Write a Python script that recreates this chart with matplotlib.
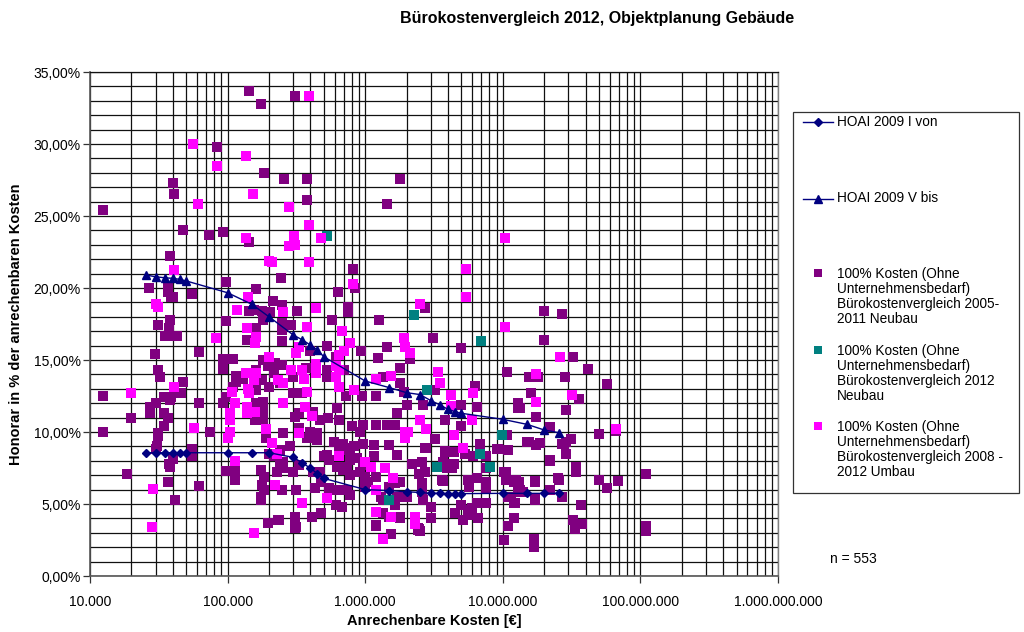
import matplotlib
matplotlib.use("Agg")
import matplotlib.pyplot as plt
from matplotlib.lines import Line2D
from matplotlib.patches import Rectangle
from matplotlib.ticker import FixedLocator, FuncFormatter, NullFormatter, LogLocator

plt.rcParams['font.family'] = ['Liberation Sans', 'DejaVu Sans']

# ---------------- data ----------------
hoai_x = [25565, 30000, 35000, 40000, 45000, 50000, 100000, 150000, 200000,
          300000, 350000, 400000, 450000, 500000, 1000000, 1500000, 2000000,
          2500000, 3000000, 3500000, 4000000, 4500000, 5000000, 10000000,
          15000000, 20000000, 25564594]
hoai_i_von = [8.56, 8.56, 8.56, 8.56, 8.56, 8.56, 8.56, 8.56, 8.56,
              8.24, 7.85, 7.48, 7.1, 6.78, 6.0, 5.93, 5.85,
              5.8, 5.74, 5.74, 5.72, 5.72, 5.72, 5.74,
              5.74, 5.74, 5.74]
hoai_v_bis = [20.9, 20.78, 20.71, 20.67, 20.6, 20.49, 19.67, 18.87, 18.0,
              16.74, 16.39, 16.04, 15.69, 15.23, 13.54, 13.08, 12.73,
              12.6, 12.18, 11.88, 11.57, 11.41, 11.3, 10.88,
              10.53, 10.14, 9.95]

# 100% Kosten, Buerokostenvergleich 2005-2011 Neubau (cost in EUR, fee in %)
neubau_0511 = [
    (12400, 25.4), (84000, 29.8), (144000, 33.7), (175000, 32.8), (310000, 33.3),
    (185000, 28.0), (258000, 27.6), (380000, 27.6), (380000, 26.1), (40000, 27.3),
    (40500, 26.5), (47500, 24.0), (73000, 23.7), (92000, 23.9), (144000, 23.2),
    (38000, 22.2), (810000, 21.3), (850000, 20.0), (245000, 20.7), (98000, 20.4),
    (27000, 20.0), (37000, 20.0), (162000, 19.9), (630000, 19.7), (750000, 18.7),
    (1450000, 25.8), (1800000, 27.6), (55000, 19.6), (37000, 19.7), (38500, 19.4),
    (40000, 19.35), (215000, 19.1), (247000, 18.8),
    (2700000, 18.6), (20000000, 18.4), (27000000, 18.2), (3100000, 16.5), (5000000, 15.8),
    (20000000, 16.4), (10700000, 14.2), (15600000, 13.8), (18000000, 13.8), (28500000, 13.8),
    (3200000, 12.9), (6300000, 13.2), (16000000, 12.7), (2100000, 15.1),
    (32500000, 15.2), (41500000, 14.4), (57000000, 13.3), (35500000, 12.3), (29000000, 11.5),
    (22000000, 10.35), (50000000, 9.84), (67000000, 10.1), (31500000, 9.5), (27000000, 9.2),
    (29000000, 8.5), (22000000, 8.0), (34000000, 7.55), (34000000, 7.25), (50000000, 6.7),
    (69000000, 6.6), (57000000, 6.1), (110000000, 7.1), (25500000, 6.7), (27000000, 5.5),
    (37000000, 4.9), (32500000, 3.9), (33500000, 3.25), (37500000, 3.6), (110000000, 3.5),
    (110000000, 3.1), (22000000, 6.0), (17000000, 5.3), (12000000, 5.05), (12000000, 4.0),
    (11000000, 3.5), (10200000, 2.5), (16800000, 2.6), (16800000, 2.0), (17000000, 6.6),
    (13000000, 5.85), (11000000, 5.5), (12000000, 6.55), (13200000, 6.55), (10200000, 7.25),
    (10500000, 6.8), (11000000, 8.75), (9000000, 8.8), (10700000, 9.8), (15500000, 9.3),
    (17500000, 9.1), (18500000, 9.25), (17500000, 11.06), (13000000, 12.0), (13400000, 11.7),
    (5000000, 11.9), (6500000, 11.75), (3800000, 10.8), (5000000, 10.4), (3200000, 9.5),
    (6800000, 9.2), (2750000, 8.9), (7500000, 8.35), (3800000, 8.6), (4400000, 8.6),
    (4400000, 7.8), (4000000, 7.8), (5300000, 8.5), (6100000, 8.3), (7500000, 7.5),
    (3700000, 6.6), (5600000, 6.65), (5700000, 6.2), (7500000, 6.55), (7500000, 6.1),
    (5000000, 4.9), (5600000, 4.6), (6000000, 4.7), (5800000, 4.25), (5100000, 3.9),
    (6500000, 5.05), (4500000, 4.4), (6600000, 4.0), (7500000, 5.05), (3000000, 4.0),
    (2400000, 3.2), (1800000, 4.1),
    (2650000, 11.9), (13000000, 11.65), (9200000, 8.85), (15000000, 9.3), (28000000, 9.2),
    (29000000, 9.3), (22000000, 8.05), (2200000, 7.8), (2600000, 7.95), (2700000, 7.25),
    (2450000, 7.1), (3700000, 7.95), (3900000, 7.5), (4300000, 7.5), (3600000, 6.65),
    (6500000, 6.8), (10600000, 7.25), (10600000, 6.65), (12500000, 6.65), (13300000, 5.95),
    (17000000, 6.55), (25000000, 6.8), (17000000, 5.4), (14000000, 5.85), (11400000, 5.5),
    (12300000, 5.05), (2600000, 6.45), (2600000, 5.85), (2650000, 5.3), (3000000, 4.8),
    (2400000, 3.3), (2500000, 3.1), (2700000, 8.9), (3800000, 8.7),
    (142000, 18.4), (38000, 17.8), (31400, 17.4), (37500, 17.2), (35000, 16.7),
    (38000, 16.7), (43000, 16.7), (138000, 16.4), (62000, 15.55), (29500, 15.4),
    (92000, 15.1), (92000, 14.7), (110000, 15.05), (92000, 14.35), (31000, 14.3),
    (32000, 13.8), (47500, 13.5), (12400, 12.5), (34500, 12.45), (39000, 12.45),
    (46000, 12.7), (116000, 13.9), (129000, 13.7), (116000, 13.5), (110000, 13.15),
    (98000, 12.45), (98000, 17.7),
    (27500, 11.75), (30000, 12.0), (27500, 11.3), (38000, 12.2), (20000, 11.0),
    (34500, 11.3), (37000, 11.0), (12500, 10.0), (34500, 10.4), (31000, 9.75),
    (74000, 10.0), (62000, 12.0), (92000, 12.0), (30500, 9.0), (30000, 8.8),
    (55000, 8.8), (55000, 8.3), (40000, 8.1), (38000, 7.6), (18700, 7.1),
    (37000, 6.5), (62000, 6.25), (41500, 5.3), (98000, 7.3), (113000, 7.36),
    (113000, 6.7), (31000, 9.9), (37500, 7.8),
    (205000, 18.35), (177000, 18.4), (182000, 17.8), (162000, 17.2), (155000, 18.5),
    (322000, 18.4), (750000, 18.3), (570000, 17.8), (1250000, 17.8), (247000, 17.55),
    (247000, 17.1), (290000, 17.4), (162000, 16.85), (247000, 16.3), (525000, 16.0),
    (1450000, 15.9), (400000, 15.6), (930000, 15.6), (610000, 15.2), (1230000, 15.15),
    (182000, 15.0), (200000, 15.1), (222000, 14.8), (197000, 14.55), (218000, 14.1),
    (247000, 14.65), (370000, 14.45), (300000, 13.85), (525000, 14.3), (525000, 13.85),
    (700000, 14.3), (1350000, 13.8), (1800000, 14.45), (1800000, 13.4), (1900000, 12.8),
    (162000, 14.3), (155000, 13.4), (177000, 13.6), (200000, 13.15), (240000, 13.4),
    (300000, 12.7), (162000, 12.9), (1200000, 12.5), (950000, 12.5), (720000, 12.5),
    (350000, 12.7),
    (162000, 12.0), (180000, 12.1), (157000, 10.8), (182000, 11.5), (182000, 10.8),
    (190000, 9.55), (253000, 9.9), (285000, 9.0), (240000, 8.75), (330000, 11.3),
    (420000, 11.4), (470000, 10.8), (540000, 10.95), (400000, 10.0), (445000, 9.9),
    (620000, 11.65), (310000, 11.05), (330000, 10.25), (375000, 9.55), (445000, 9.45),
    (525000, 8.4), (590000, 9.3), (640000, 10.8), (800000, 10.4), (910000, 10.0),
    (970000, 10.5), (1150000, 9.1), (1200000, 10.5), (1450000, 10.5), (1650000, 10.5),
    (1700000, 11.3), (2000000, 11.9), (1500000, 9.1), (1700000, 8.4), (1150000, 8.3),
    (175000, 7.35), (185000, 6.9), (228000, 7.25), (253000, 7.5), (177000, 6.3),
    (175000, 5.3), (197000, 3.65), (247000, 6.0), (240000, 7.7), (253000, 7.95),
    (200000, 8.5), (218000, 8.3), (300000, 7.25), (330000, 7.7), (315000, 6.0),
    (420000, 7.25), (470000, 7.25), (430000, 6.1), (475000, 6.55), (310000, 4.1),
    (310000, 3.55), (310000, 3.3), (410000, 4.1), (475000, 4.35), (233000, 3.9),
    (175000, 5.5), (185000, 6.0), (550000, 6.1), (620000, 6.0), (610000, 4.9),
    (680000, 4.8), (770000, 5.6), (740000, 6.0), (620000, 7.6), (690000, 7.35),
    (740000, 7.6), (770000, 7.0), (910000, 7.25), (1000000, 6.9), (1050000, 6.55),
    (1000000, 6.2), (650000, 8.6), (740000, 8.75), (830000, 9.0), (970000, 9.2),
    (770000, 8.05), (870000, 8.2), (970000, 7.7), (1200000, 6.9), (1200000, 6.0),
    (1300000, 5.5), (1350000, 5.3), (1500000, 6.2), (1650000, 6.45), (1800000, 6.55),
    (1700000, 5.5), (2000000, 5.5), (1650000, 4.9), (1350000, 4.35), (1500000, 4.1),
    (1800000, 4.0), (1200000, 3.55), (1550000, 2.95), (500000, 8.3), (550000, 8.05),
    (690000, 9.2), (770000, 8.9), (237000, 3.9), (315000, 3.4), (1200000, 3.5),
    (2450000, 3.25),
]

# 100% Kosten, Buerokostenvergleich 2012 Neubau
neubau_2012 = [
    (525000, 23.6), (2260000, 18.15), (6900000, 16.3), (2800000, 12.9), (9900000, 9.8),
    (6800000, 8.5), (8100000, 7.6), (3300000, 7.6), (1500000, 5.3),
]

# 100% Kosten, Buerokostenvergleich 2008-2012 Umbau
umbau_0812 = [
    (56000, 30.0), (84000, 28.5), (390000, 33.3), (135000, 29.2), (152000, 26.5),
    (278000, 25.6), (390000, 24.4), (61000, 25.8), (136000, 23.5), (303000, 23.6),
    (278000, 22.9), (310000, 23.0), (475000, 23.5), (200000, 21.9), (210000, 21.8),
    (390000, 21.8), (40500, 21.25), (810000, 20.3), (140000, 19.4), (30000, 18.9),
    (31000, 18.7),
    (2500000, 18.9), (5400000, 21.3), (5400000, 19.4), (10400000, 17.3), (26000000, 15.2),
    (17400000, 14.0), (3400000, 14.2), (3500000, 13.4), (6100000, 12.7), (4200000, 12.6),
    (2100000, 15.5), (10400000, 23.45), (32000000, 12.6), (66000000, 10.2), (17500000, 12.1),
    (6000000, 10.8), (4400000, 9.8), (5100000, 8.9), (2300000, 4.1), (2300000, 3.6),
    (117000, 18.5), (83000, 16.5), (138000, 17.2), (40500, 13.1), (20000, 12.7),
    (135000, 14.1), (140000, 13.0), (108000, 12.8), (142000, 12.7),
    (57000, 10.3), (104000, 11.3), (104000, 10.8), (104000, 10.0), (100000, 9.55),
    (114000, 12.0), (138000, 11.75), (138000, 11.3), (28500, 6.04), (28000, 3.4),
    (113000, 8.0),
    (253000, 18.3), (440000, 18.6), (1900000, 16.55), (162000, 16.6), (157000, 16.2),
    (380000, 17.3), (680000, 17.0), (780000, 16.2), (330000, 15.9), (312000, 15.5),
    (700000, 15.6), (650000, 15.35), (1950000, 15.9), (200000, 15.2), (290000, 14.3),
    (360000, 13.65), (440000, 14.1), (610000, 14.55), (640000, 14.3), (610000, 13.85),
    (640000, 13.15), (1200000, 13.7), (1550000, 13.9), (162000, 14.1), (830000, 12.9),
    (157000, 11.4), (190000, 10.2), (210000, 9.25), (253000, 12.0), (365000, 11.75),
    (410000, 11.1), (330000, 9.9), (1950000, 10.0), (1950000, 9.55), (1000000, 7.95),
    (1200000, 6.0), (1100000, 7.6), (650000, 8.3), (1400000, 7.5), (1600000, 6.8),
    (1200000, 4.45), (1550000, 4.1), (1350000, 2.55), (525000, 5.4), (345000, 5.05),
    (222000, 6.3), (228000, 8.5), (155000, 3.0),
    (4200000, 11.8), (2500000, 10.8), (2750000, 10.2),
    (440000, 14.75), (380000, 12.8), (345000, 14.3), (253000, 13.4), (233000, 13.6),
    (155000, 13.6), (2050000, 10.0),
]

x_tick_values = [1e4, 1e5, 1e6, 1e7, 1e8, 1e9]
x_tick_labels = ["10.000", "100.000", "1.000.000", "10.000.000", "100.000.000", "1.000.000.000"]
y_major = [0, 5, 10, 15, 20, 25, 30, 35]

# ---------------- figure ----------------
W, H = 1024, 632
fig = plt.figure(figsize=(W / 100, H / 100), dpi=100)
fig.patch.set_facecolor('white')

ax_l, ax_r, ax_t, ax_b = 90, 778, 72, 576
ax = fig.add_axes([ax_l / W, 1 - ax_b / H, (ax_r - ax_l) / W, (ax_b - ax_t) / H])
ax.set_xscale('log')
ax.set_xlim(1e4, 1e9)
ax.set_ylim(0, 35)

grid_kw = dict(color='#111111', linewidth=0.9)
ax.xaxis.set_major_locator(FixedLocator(x_tick_values))
ax.xaxis.set_minor_locator(LogLocator(base=10, subs=range(2, 10), numticks=20))
ax.xaxis.set_minor_formatter(NullFormatter())
ax.xaxis.set_major_formatter(FuncFormatter(
    lambda v, p: x_tick_labels[x_tick_values.index(v)] if v in x_tick_values else ""))
ax.yaxis.set_major_locator(FixedLocator(y_major))
ax.yaxis.set_minor_locator(FixedLocator([v for v in range(0, 36) if v % 5]))
ax.yaxis.set_major_formatter(FuncFormatter(lambda v, p: f"{v:.2f}%".replace('.', ',')))
ax.grid(True, which='both', axis='both', **grid_kw)
ax.set_axisbelow(True)

ax.tick_params(axis='both', which='major', labelsize=10, length=5, width=0.9,
               color='#333333', direction='out')
ax.tick_params(axis='x', which='major', pad=9)
ax.tick_params(axis='y', which='major', pad=1.5)
ax.tick_params(axis='both', which='minor', length=0)

for side in ['left', 'bottom']:
    ax.spines[side].set_color('#555555')
    ax.spines[side].set_linewidth(1.2)
ax.spines['right'].set_color('#808080')
ax.spines['top'].set_color('#111111')
ax.spines['right'].set_linewidth(1.0)
ax.spines['top'].set_linewidth(0.9)

purple, teal, magenta, navy = '#800080', '#008080', '#FF00FF', '#000080'
msize = 44

for data, col, z in [(neubau_0511, purple, 3), (neubau_2012, teal, 4), (umbau_0812, magenta, 5)]:
    xs = [d[0] for d in data]
    ys = [d[1] for d in data]
    ax.scatter(xs, ys, s=msize, marker='s', color=col, linewidths=0, zorder=z)

ax.plot(hoai_x, hoai_i_von, color=navy, linewidth=1.0, marker='D', markersize=4.2, zorder=6)
ax.plot(hoai_x, hoai_v_bis, color=navy, linewidth=1.0, marker='^', markersize=6, zorder=6)

ax.set_xlabel("Anrechenbare Kosten [€]", fontsize=10.5, fontweight='bold', labelpad=3)
ax.set_ylabel("Honorar in % der anrechenbaren Kosten", fontsize=10.5, fontweight='bold', labelpad=8)

fig.text(597 / W, 1 - 18 / H, "Bürokostenvergleich 2012, Objektplanung Gebäude",
         ha='center', va='center', fontsize=11.5, fontweight='bold')

# ---------------- legend (drawn manually) ----------------
def fx(px):
    return px / W

def fy(py):
    return 1 - py / H

fig.add_artist(Rectangle((fx(793), fy(492.7)), fx(1019) - fx(793), fy(111.7) - fy(492.7),
                         transform=fig.transFigure, facecolor='white',
                         edgecolor='#333333', linewidth=0.9))
leg_fs = 9.8
for py, mk, ms, lab in [(122, 'D', 4.2, "HOAI 2009 I von"), (198.5, '^', 6, "HOAI 2009 V bis")]:
    fig.add_artist(Line2D([fx(802.7), fx(832.7)], [fy(py), fy(py)], transform=fig.transFigure,
                          color=navy, linewidth=1.0))
    fig.add_artist(Line2D([fx(818)], [fy(py)], transform=fig.transFigure, color=navy,
                          marker=mk, markersize=ms, linestyle='none'))
    fig.text(fx(836.7), fy(py), lab, ha='left', va='center', fontsize=leg_fs)

sq_items = [
    (273.3, purple, "100% Kosten (Ohne\nUnternehmensbedarf)\nBürokostenvergleich 2005-\n2011 Neubau"),
    (350.0, teal, "100% Kosten (Ohne\nUnternehmensbedarf)\nBürokostenvergleich 2012\nNeubau"),
    (426.0, magenta, "100% Kosten (Ohne\nUnternehmensbedarf)\nBürokostenvergleich 2008 -\n2012 Umbau"),
]
for py, col, lab in sq_items:
    fig.add_artist(Line2D([fx(818)], [fy(py)], transform=fig.transFigure, color=col,
                          marker='s', markersize=6, linestyle='none', markeredgewidth=0))
    fig.text(fx(836.7), fy(py - 6.5), lab, ha='left', va='top', fontsize=leg_fs,
             linespacing=1.1)

fig.text(fx(830), fy(559), "n = 553", ha='left', va='center', fontsize=10)

fig.savefig("out.png", dpi=100)
